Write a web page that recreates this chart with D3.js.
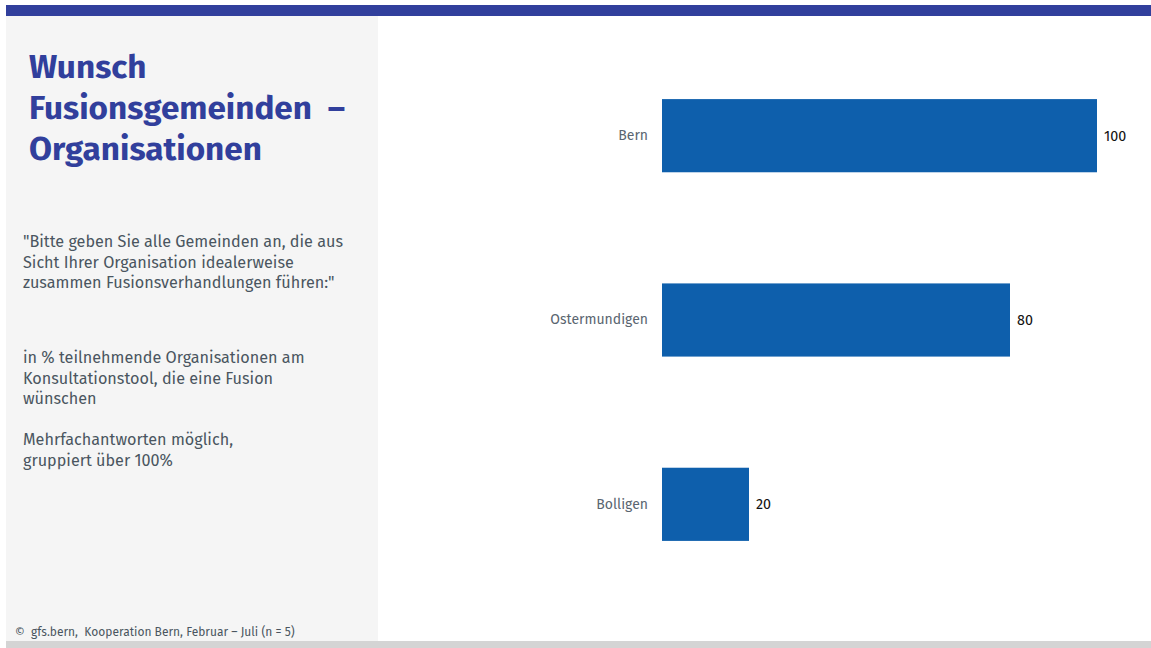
<!DOCTYPE html>
<html>
<head>
<meta charset="utf-8">
<script src="https://cdn.jsdelivr.net/npm/d3@7"></script>
<style>
  html, body { margin: 0; padding: 0; background: #ffffff; }
  svg { display: block; }
  text { white-space: pre; }
</style>
</head>
<body>
<svg id="chart" width="1151" height="648"></svg>
<script>
// Data
const categories = ["Bern", "Ostermundigen", "Bolligen"];
const values = [100, 80, 20];

const titleLines = ["Wunsch", "Fusionsgemeinden  –", "Organisationen"];
const questionLines = [
  "\"Bitte geben Sie alle Gemeinden an, die aus",
  "Sicht Ihrer Organisation idealerweise",
  "zusammen Fusionsverhandlungen führen:\""
];
const baseLines = [
  "in % teilnehmende Organisationen am",
  "Konsultationstool, die eine Fusion",
  "wünschen"
];
const noteLines = ["Mehrfachantworten möglich,", "gruppiert über 100%"];
const sourceText = "©  gfs.bern,  Kooperation Bern, Februar – Juli (n = 5)";

const W = 1151, H = 648;
const FONT = "'Fira Sans', 'Roboto', 'Noto Sans', sans-serif";
const svg = d3.select("#chart");

// Frame: top band, side panel, bottom strip
svg.append("rect").attr("x", 6).attr("y", 5).attr("width", W - 6).attr("height", 11).attr("fill", "#313f9c");
svg.append("rect").attr("x", 6).attr("y", 16).attr("width", 372).attr("height", 625).attr("fill", "#f5f5f5");
svg.append("rect").attr("x", 6).attr("y", 641).attr("width", W - 6).attr("height", 7).attr("fill", "#d4d4d4");

// Title
const title = svg.append("text")
  .attr("font-family", FONT).attr("font-weight", 700).attr("font-size", 33.3)
  .attr("fill", "#313f9c");
titleLines.forEach((t, i) => {
  title.append("tspan").attr("x", 29).attr("y", 78 + i * 41).text(t);
});

// Side panel text blocks
function block(lines, x, y0, lh, size, color) {
  const t = svg.append("text").attr("font-family", FONT).attr("font-size", size).attr("fill", color);
  lines.forEach((l, i) => t.append("tspan").attr("x", x).attr("y", y0 + i * lh).text(l));
}
block(questionLines, 23, 247, 20.5, 16.2, "#4a5560");
block(baseLines, 23, 363, 20.5, 16.2, "#4a5560");
block(noteLines, 23, 445, 20.5, 16.2, "#4a5560");
block([sourceText], 15, 636, 0, 12, "#4a5560");

// Bar chart
const x = d3.scaleLinear().domain([0, 100]).range([662, 1097]);
const y = d3.scaleBand().domain(categories).range([43.8, 596.2]).paddingInner(0.603).paddingOuter(0.3);

const data = categories.map((c, i) => ({ c, v: values[i] }));

svg.append("g").selectAll("rect").data(data).join("rect")
  .attr("x", x(0))
  .attr("y", d => y(d.c))
  .attr("width", d => x(d.v) - x(0))
  .attr("height", y.bandwidth())
  .attr("fill", "#0e5fac");

// Category axis (labels only)
const yAxis = svg.append("g").attr("transform", `translate(${x(0)},0)`)
  .call(d3.axisLeft(y).tickSize(0).tickPadding(14));
yAxis.select(".domain").remove();
yAxis.selectAll("text").attr("font-family", FONT).attr("font-size", 14).attr("fill", "#5a6570");

// Value labels
svg.append("g").selectAll("text").data(data).join("text")
  .attr("x", d => x(d.v) + 7)
  .attr("y", d => y(d.c) + y.bandwidth() / 2)
  .attr("dy", "0.35em")
  .attr("font-family", FONT).attr("font-size", 14.3).attr("fill", "#111")
  .text(d => d.v);
</script>
</body>
</html>
